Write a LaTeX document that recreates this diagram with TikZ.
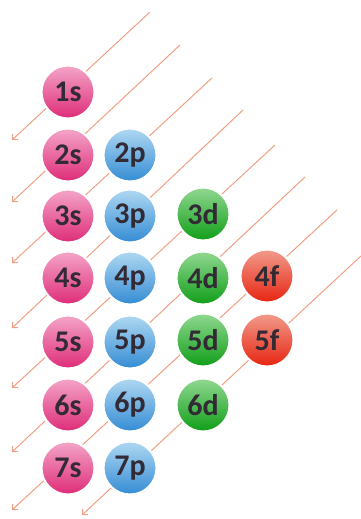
\documentclass[tikz,border=0pt]{standalone}
\usepackage{fontspec}
\setmainfont{Carlito}
\usetikzlibrary{arrows.meta}
\definecolor{linec}{RGB}{240,160,130}
\definecolor{txt}{RGB}{50,42,52}
\definecolor{sTop}{RGB}{244,165,200}
\definecolor{sBot}{RGB}{222,44,120}
\definecolor{pTop}{RGB}{175,216,242}
\definecolor{pBot}{RGB}{52,140,212}
\definecolor{dTop}{RGB}{145,216,145}
\definecolor{dBot}{RGB}{16,158,24}
\definecolor{fTop}{RGB}{242,155,140}
\definecolor{fBot}{RGB}{230,36,16}
\tikzset{
  orb/.style={circle, minimum size=53pt, inner sep=0pt, text=txt,
    draw=white, line width=2pt,
    font=\fontsize{30}{30}\selectfont\bfseries},
  sorb/.style={orb, top color=sTop, bottom color=sBot},
  porb/.style={orb, top color=pTop, bottom color=pBot},
  dorb/.style={orb, top color=dTop, bottom color=dBot},
  forb/.style={orb, top color=fTop, bottom color=fBot},
  diag/.style={draw=linec, line width=1pt, -{Straight Barb[length=4pt,width=8pt]}}
}
\begin{document}
\begin{tikzpicture}[x=1pt,y=-1pt]
\useasboundingbox (0,0) rectangle (361,519);
% free ends of the diagonals
\coordinate (t1) at (150,12);  \coordinate (e1) at (12,140);
\coordinate (t2) at (180,45);  \coordinate (e2) at (12,202);
\coordinate (t3) at (212,78);  \coordinate (e3) at (12,263);
\coordinate (t4) at (243,110); \coordinate (e4) at (12,328);
\coordinate (t5) at (275,145); \coordinate (e5) at (12,388);
\coordinate (t6) at (305,177); \coordinate (e6) at (12,452);
\coordinate (t7) at (337,210); \coordinate (e7) at (12,510);
\coordinate (t8) at (361,256); \coordinate (e8) at (82,515);
\foreach \i in {1,...,8} { \draw[diag] (t\i) -- (e\i); }
% orbitals
\node[sorb] (s1) at (68,92)  {1s};
\node[sorb] (s2) at (68,155) {2s};
\node[sorb] (s3) at (68,216) {3s};
\node[sorb] (s4) at (68,278) {4s};
\node[sorb] (s5) at (68,342) {5s};
\node[sorb] (s6) at (68,405) {6s};
\node[sorb] (s7) at (68,468) {7s};
\node[porb] (p2) at (130,155) {2p};
\node[porb] (p3) at (130,216) {3p};
\node[porb] (p4) at (130,278) {4p};
\node[porb] (p5) at (130,342) {5p};
\node[porb] (p6) at (130,405) {6p};
\node[porb] (p7) at (130,468) {7p};
\node[dorb] (d3) at (203,214) {3d};
\node[dorb] (d4) at (203,278) {4d};
\node[dorb] (d5) at (203,340) {5d};
\node[dorb] (d6) at (203,405) {6d};
\node[forb] (f4) at (267,276) {4f};
\node[forb] (f5) at (267,340) {5f};
\end{tikzpicture}
\end{document}
